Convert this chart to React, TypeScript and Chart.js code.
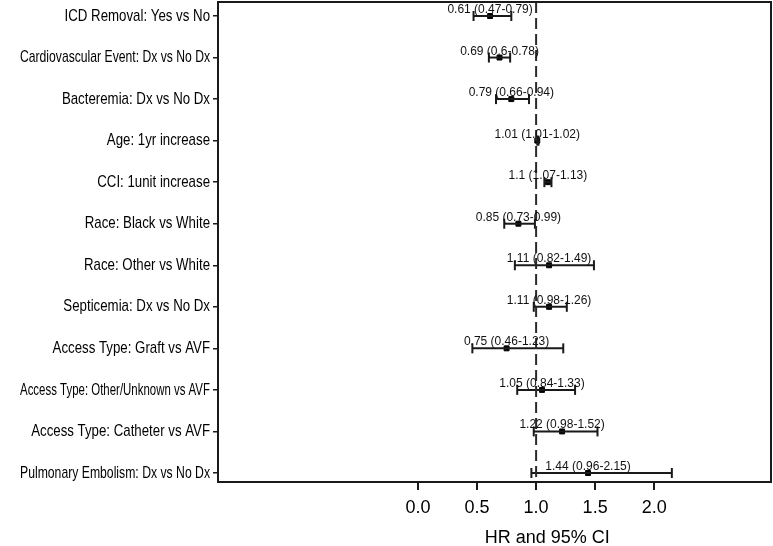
import React, { useEffect, useRef } from 'react';
import { Chart, registerables } from 'chart.js';

Chart.register(...registerables);

const labels = [
  'ICD Removal: Yes vs No',
  'Cardiovascular Event: Dx vs No Dx',
  'Bacteremia: Dx vs No Dx',
  'Age: 1yr increase',
  'CCI: 1unit increase',
  'Race: Black vs White',
  'Race: Other vs White',
  'Septicemia: Dx vs No Dx',
  'Access Type: Graft vs AVF',
  'Access Type: Other/Unknown vs AVF',
  'Access Type: Catheter vs AVF',
  'Pulmonary Embolism: Dx vs No Dx',
];
const estimates = [0.61, 0.69, 0.79, 1.01, 1.1, 0.85, 1.11, 1.11, 0.75, 1.05, 1.22, 1.44];
const lower = [0.47, 0.6, 0.66, 1.01, 1.07, 0.73, 0.82, 0.98, 0.46, 0.84, 0.98, 0.96];
const upper = [0.79, 0.78, 0.94, 1.02, 1.13, 0.99, 1.49, 1.26, 1.23, 1.33, 1.52, 2.15];
const xTicks = [0, 0.5, 1, 1.5, 2];
const referenceValue = 1;
const axisTitle = 'HR and 95% CI';
const xMin = -1.695;
const xMax = 2.99;
const yMin = -0.337;
const yMax = 11.217;

const SANS = '"Liberation Sans", Arial, Helvetica, sans-serif';
const INK = '#1a1a1a';

const boxPlugin = {
  id: 'forestBox',
  afterDatasetsDraw(chart: any) {
    const { ctx, chartArea: a, scales } = chart;
    const x = scales.x;
    const y = scales.y;
    ctx.save();
    ctx.strokeStyle = INK;
    ctx.lineWidth = 2;
    ctx.strokeRect(a.left, a.top, a.right - a.left, a.bottom - a.top);
    // estimate annotations
    ctx.font = '12px ' + SANS;
    ctx.fillStyle = '#111';
    ctx.textAlign = 'center';
    ctx.textBaseline = 'alphabetic';
    estimates.forEach((e, i) => {
      const txt = `${e} (${lower[i]}-${upper[i]})`;
      ctx.fillText(txt, x.getPixelForValue(e), y.getPixelForValue(i) - 3);
    });
    // category labels, condensed like the original narrow face
    const sx = 0.78;
    ctx.font = '17px ' + SANS;
    ctx.fillStyle = '#000';
    ctx.textAlign = 'right';
    ctx.textBaseline = 'middle';
    labels.forEach((lab, i) => {
      ctx.save();
      ctx.translate(a.left - 8, y.getPixelForValue(i));
      ctx.scale(sx, 1);
      ctx.fillText(lab, 0, 0, 190 / sx);
      ctx.restore();
    });
    // axis title
    ctx.font = '18px ' + SANS;
    ctx.textAlign = 'center';
    ctx.textBaseline = 'middle';
    ctx.fillText(axisTitle, x.getPixelForValue(1.095), 538);
    ctx.restore();
  },
};

export default function App() {
  const ref = useRef<HTMLCanvasElement | null>(null);
  useEffect(() => {
    if (!ref.current) return;
    const datasets: any[] = [];
    datasets.push({
      type: 'line',
      data: [
        { x: referenceValue, y: yMin },
        { x: referenceValue, y: yMax },
      ],
      borderColor: '#2a2a2a',
      borderWidth: 2,
      borderDash: [11, 5],
      pointRadius: 0,
      showLine: true,
    });
    labels.forEach((_, i) => {
      datasets.push({
        type: 'line',
        data: [
          { x: lower[i], y: i },
          { x: upper[i], y: i },
        ],
        borderColor: INK,
        borderWidth: 2,
        showLine: true,
        pointStyle: 'line',
        pointRotation: 90,
        pointRadius: 5,
        pointBorderWidth: 2,
        pointBorderColor: INK,
      });
    });
    datasets.push({
      type: 'scatter',
      data: estimates.map((e, i) => ({ x: e, y: i })),
      pointStyle: 'rect',
      pointRadius: 3.5,
      backgroundColor: '#000',
      borderColor: '#000',
      borderWidth: 1,
    });

    const chart = new Chart(ref.current, {
      type: 'scatter',
      data: { datasets },
      plugins: [boxPlugin],
      options: {
        animation: false,
        responsive: false,
        devicePixelRatio: 1,
        layout: { autoPadding: false, padding: { top: 2, right: 2, left: 0, bottom: 0 } },
        plugins: { legend: { display: false }, tooltip: { enabled: false } },
        scales: {
          x: {
            type: 'linear',
            min: xMin,
            max: xMax,
            afterBuildTicks: (s: any) => {
              s.ticks = xTicks.map((v) => ({ value: v }));
            },
            afterFit: (s: any) => {
              s.height = 64;
              s.paddingLeft = 0;
              s.paddingRight = 0;
            },
            border: { display: false },
            grid: {
              display: true,
              drawOnChartArea: false,
              drawTicks: true,
              tickLength: 8,
              color: INK,
              lineWidth: 2,
            },
            ticks: {
              color: '#000',
              padding: 7,
              font: { family: SANS, size: 18 },
              callback: (v: any) => Number(v).toFixed(1),
              maxRotation: 0,
            },
            title: { display: false },
          },
          y: {
            type: 'linear',
            reverse: true,
            min: yMin,
            max: yMax,
            afterBuildTicks: (s: any) => {
              s.ticks = labels.map((_, i) => ({ value: i }));
            },
            afterFit: (s: any) => {
              s.width = 218;
              s.paddingTop = 0;
              s.paddingBottom = 0;
            },
            border: { display: false },
            grid: {
              display: true,
              drawOnChartArea: false,
              drawTicks: true,
              tickLength: 5,
              color: INK,
              lineWidth: 1.5,
            },
            ticks: {
              display: false,
            },
          },
        },
      } as any,
    });
    return () => chart.destroy();
  }, []);

  return (
    <div style={{ position: 'absolute', left: 0, top: 0, width: 773, height: 546, background: '#fff' }}>
      <canvas ref={ref} width={773} height={546} />
    </div>
  );
}
